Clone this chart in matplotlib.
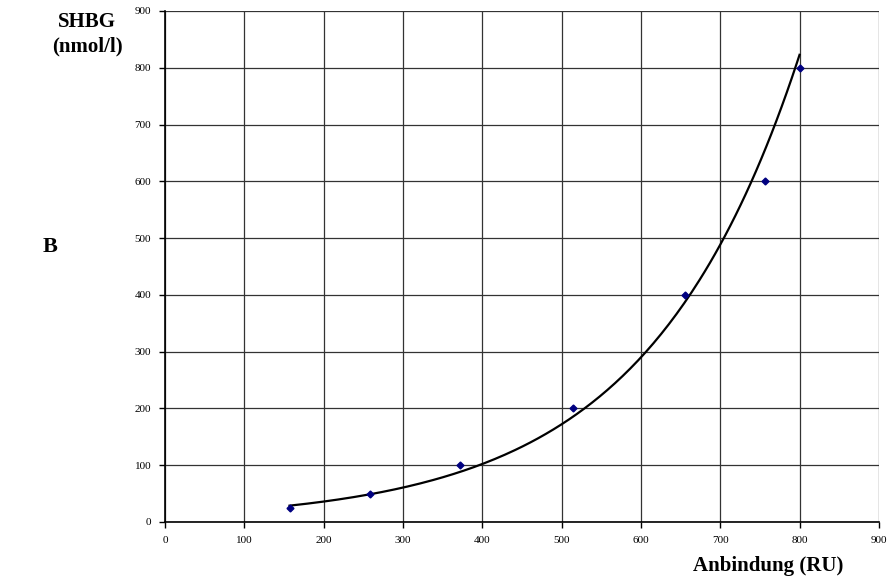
import numpy as np
import matplotlib.pyplot as plt

plt.rcParams['font.family'] = ['Liberation Serif', 'DejaVu Serif']

anbindung = [157, 258, 372, 515, 655, 757, 800]
shbg = [25, 50, 100, 200, 400, 600, 800]

# exponential trendline, least squares on ln(y)
b, ln_a = np.polyfit(anbindung, np.log(shbg), 1)
xt = np.linspace(min(anbindung), max(anbindung), 200)
yt = np.exp(ln_a) * np.exp(b * xt)

fig = plt.figure(figsize=(8.89, 5.84), dpi=100)
ax = fig.add_axes([0.1856, 0.1062, 0.8030, 0.875])

ax.plot(xt, yt, color='black', lw=1.6, zorder=3)
ax.plot(anbindung, shbg, 'D', color='#000080', ms=3.5, zorder=4)

ax.set_xlim(0, 900)
ax.set_ylim(0, 900)
ax.set_xticks(range(0, 901, 100))
ax.set_yticks(range(0, 901, 100))
ax.grid(True, color='#333333', lw=0.9)
ax.tick_params(labelsize=8, length=4, width=1, pad=6)
for side in ['top', 'right']:
    ax.spines[side].set_visible(False)
for side in ['left', 'bottom']:
    ax.spines[side].set_linewidth(1.2)

fig.text(87 / 889, 1 - 34 / 584, 'SHBG\n(nmol/l)', ha='center', va='center',
         fontsize=15, fontweight='bold', linespacing=1.3)
fig.text(50 / 889, 1 - 247 / 584, 'B', ha='center', va='center',
         fontsize=16, fontweight='bold')
fig.text(768 / 889, 1 - 566 / 584, 'Anbindung (RU)', ha='center', va='center',
         fontsize=15, fontweight='bold')

fig.savefig('out.png', dpi=100)
